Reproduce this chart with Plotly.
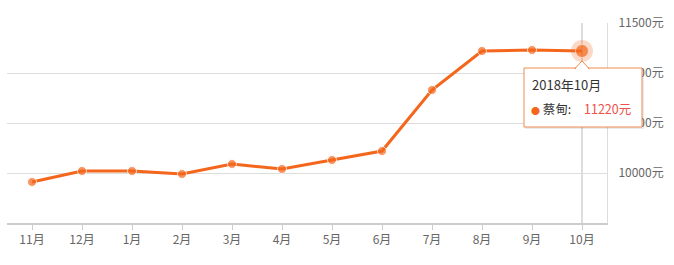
import plotly.graph_objects as go

months = ["11月", "12月", "1月", "2月", "3月", "4月", "5月", "6月", "7月", "8月", "9月", "10月"]
prices = [9910, 10020, 10020, 9990, 10090, 10040, 10130, 10220, 10830, 11220, 11230, 11220]
y_ticks = [10000, 10500, 11000, 11500]
y_tick_text = [f"{v}元" for v in y_ticks]
tip_title = "2018年10月"
tip_name = "蔡甸"

ORANGE = "#f4661b"
FONT = "Noto Sans CJK SC, Microsoft YaHei, sans-serif"

fig = go.Figure()
fig.add_trace(go.Scatter(x=months, y=prices, mode="lines+markers",
                         line=dict(color=ORANGE, width=3),
                         marker=dict(size=[9]*(len(months)-1) + [13], color=ORANGE),
                         showlegend=False, cliponaxis=False))
# hover halo on the last point
fig.add_trace(go.Scatter(x=[months[-1]], y=[prices[-1]], mode="markers",
                         marker=dict(size=22, color="rgba(244,102,27,0.25)"),
                         hoverinfo="skip", showlegend=False, cliponaxis=False))

# axis pointer line at the last month
fig.add_shape(type="line", xref="x", yref="paper", x0=len(months)-1, x1=len(months)-1,
              y0=0, y1=1, line=dict(color="#bbbbbb", width=1), layer="below")

# tooltip box (decoration)
L, R, T, B = 7, 607, 23, 223
def px(x): return (x - L) / (R - L)
def py(y): return (B - y) / (B - T)

bx0, bx1, by0, by1 = 524, 642, 68, 127
fig.add_shape(type="rect", xref="paper", yref="paper", x0=px(bx0+1), x1=px(bx1+2),
              y0=py(by1+2), y1=py(by0+1), line=dict(width=0), fillcolor="rgba(0,0,0,0.08)")
fig.add_shape(type="rect", xref="paper", yref="paper", x0=px(bx0), x1=px(bx1),
              y0=py(by1), y1=py(by0), line=dict(color="#ee8a4e", width=1), fillcolor="white")
ax = 582
fig.add_shape(type="path", xref="paper", yref="paper",
              path=f"M {px(ax-7)} {py(by0+0.5)} L {px(ax)} {py(by0-7)} L {px(ax+7)} {py(by0+0.5)} Z",
              line=dict(color="#ee8a4e", width=1), fillcolor="white")
fig.add_shape(type="line", xref="paper", yref="paper", x0=px(ax-6), x1=px(ax+6),
              y0=py(by0+1), y1=py(by0+1), line=dict(color="white", width=2))

fig.add_annotation(xref="paper", yref="paper", x=px(530), y=py(84), xanchor="left", yanchor="middle",
                   text=tip_title, showarrow=False, font=dict(family=FONT, size=13, color="#333"))
fig.add_annotation(xref="paper", yref="paper", x=px(529), y=py(108), xanchor="left", yanchor="middle",
                   text=f"<span style='color:{ORANGE};font-size:9px'>●</span> {tip_name}:", showarrow=False,
                   font=dict(family=FONT, size=12.5, color="#333"))
fig.add_annotation(xref="paper", yref="paper", x=px(582), y=py(108), xanchor="left", yanchor="middle",
                   text=f"{prices[-1]}元", showarrow=False,
                   font=dict(family=FONT, size=12.5, color="#f0504a"))

fig.update_layout(
    width=674, height=265,
    margin=dict(l=L, r=674-R, t=T, b=265-B),
    paper_bgcolor="white", plot_bgcolor="white",
    font=dict(family=FONT, size=12, color="#666"),
    xaxis=dict(type="category", categoryorder="array", categoryarray=months,
               range=[-0.5, len(months)-0.5], showgrid=False,
               showline=True, linecolor="#cccccc", linewidth=2,
               ticks="outside", ticklen=5, tickcolor="#cccccc", tickwidth=1,
               zeroline=False, fixedrange=True),
    yaxis=dict(side="right", range=[9500, 11500], tickvals=y_ticks, ticktext=y_tick_text,
               showgrid=True, gridcolor="#dddddd", gridwidth=1,
               showline=True, linecolor="#dddddd", linewidth=1, mirror=False,
               ticks="", ticklabelstandoff=8, zeroline=False, fixedrange=True),
)

fig.write_html("out.html")
